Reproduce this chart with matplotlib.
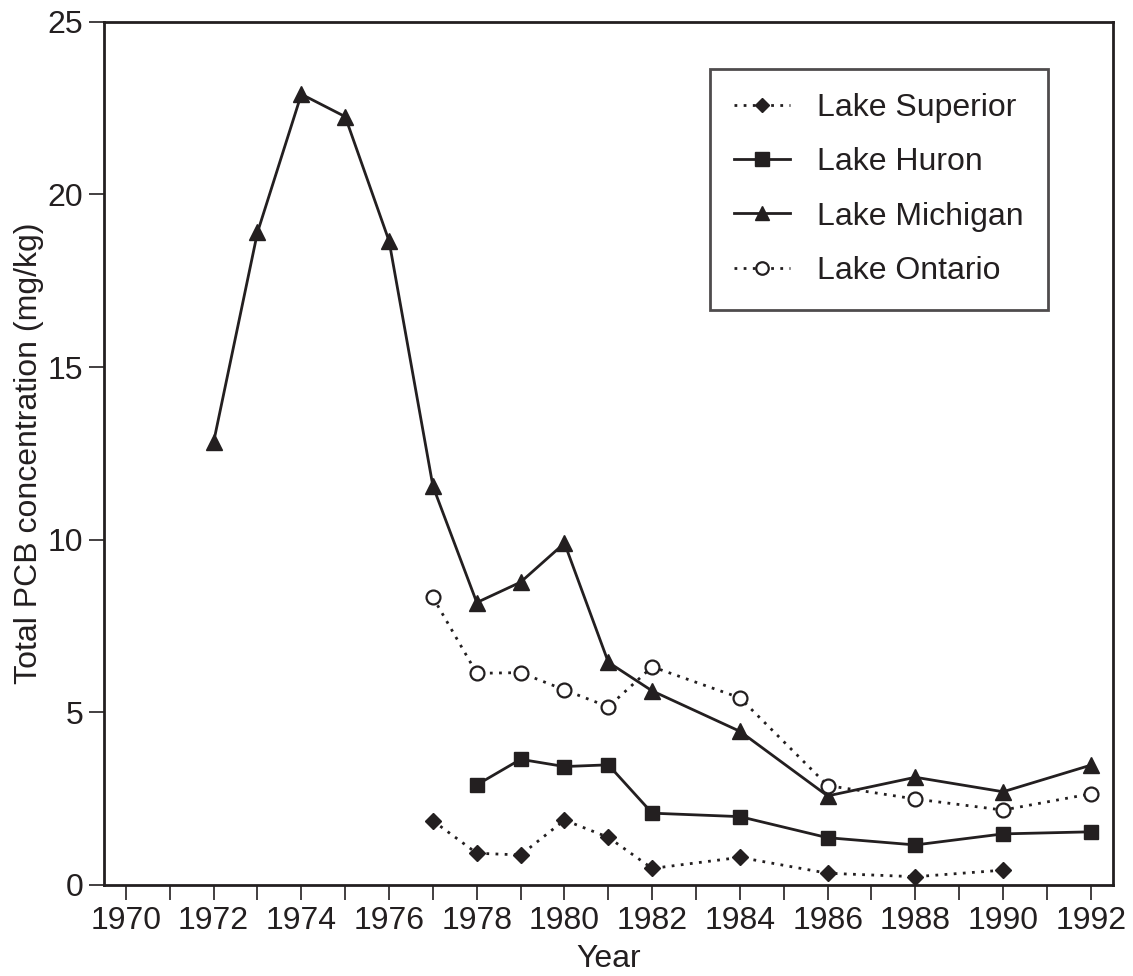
import matplotlib
matplotlib.use("Agg")
import matplotlib.pyplot as plt

# Data
sup_years = [1977, 1978, 1979, 1980, 1981, 1982, 1984, 1986, 1988, 1990]
sup_vals = [1.86, 0.92, 0.87, 1.88, 1.38, 0.48, 0.80, 0.34, 0.24, 0.43]

hur_years = [1978, 1979, 1980, 1981, 1982, 1984, 1986, 1988, 1990, 1992]
hur_vals = [2.90, 3.64, 3.43, 3.48, 2.08, 1.98, 1.37, 1.16, 1.48, 1.54]

mic_years = [1972, 1973, 1974, 1975, 1976, 1977, 1978, 1979, 1980, 1981, 1982, 1984, 1986, 1988, 1990, 1992]
mic_vals = [12.83, 18.9, 22.9, 22.25, 18.65, 11.55, 8.18, 8.77, 9.9, 6.45, 5.62, 4.45, 2.58, 3.12, 2.70, 3.47]

ont_years = [1977, 1978, 1979, 1980, 1981, 1982, 1984, 1986, 1988, 1990, 1992]
ont_vals = [8.33, 6.13, 6.15, 5.65, 5.16, 6.32, 5.42, 2.88, 2.49, 2.17, 2.64]

labels = ["Lake Superior", "Lake Huron", "Lake Michigan", "Lake Ontario"]
xticks = list(range(1970, 1993, 2))
yticks = [0, 5, 10, 15, 20, 25]

C = "#231f20"
plt.rcParams['font.family'] = ['Liberation Sans', 'DejaVu Sans']
FS = 23

fig = plt.figure(figsize=(11.33, 9.76), dpi=100)
ax = fig.add_axes([104/1133, 1 - 885/976, (1112.7 - 104)/1133, (885 - 21.7)/976])

dot = (0, (1, 2.3))
ax.plot(sup_years, sup_vals, color=C, lw=2, linestyle=dot, marker='D', ms=8,
        mfc=C, mec=C, label=labels[0])
ax.plot(hur_years, hur_vals, color=C, lw=2, linestyle='-', marker='s', ms=10.5,
        mfc=C, mec=C, label=labels[1])
ax.plot(mic_years, mic_vals, color=C, lw=2, linestyle='-', marker='^', ms=11,
        mfc=C, mec=C, label=labels[2])
ax.plot(ont_years, ont_vals, color=C, lw=2, linestyle=dot, marker='o', ms=10,
        mfc='white', mec=C, mew=1.6, label=labels[3])

ax.set_xlim(1969.5, 1992.5)
ax.set_ylim(0, 25)
ax.set_xticks(xticks)
ax.set_xticks(range(1970, 1993), minor=True)
ax.set_yticks(yticks)
ax.tick_params(axis='both', which='major', direction='out', length=11, width=1.2,
               color=C, labelcolor=C, labelsize=FS)
ax.tick_params(axis='x', which='major', pad=4)
ax.tick_params(axis='y', which='major', pad=4)
ax.tick_params(axis='x', which='minor', direction='out', length=11, width=1.2, color=C)
for s in ax.spines.values():
    s.set_linewidth(2)
    s.set_color(C)

ax.set_xlabel("Year", fontsize=FS, color=C, labelpad=6)
ax.set_ylabel("Total PCB concentration (mg/kg)", fontsize=FS, color=C, labelpad=2.5)

leg = ax.legend(loc='upper right', bbox_to_anchor=(1048/1133, 1 - 69/976),
                bbox_transform=fig.transFigure, fontsize=FS, frameon=True,
                fancybox=False, edgecolor=C, handlelength=1.75, handletextpad=0.85,
                labelspacing=0.76, borderpad=0.75, borderaxespad=0, markerscale=0.9)
leg.get_frame().set_linewidth(2)
for t in leg.get_texts():
    t.set_color(C)

fig.savefig("out.png", dpi=100)
